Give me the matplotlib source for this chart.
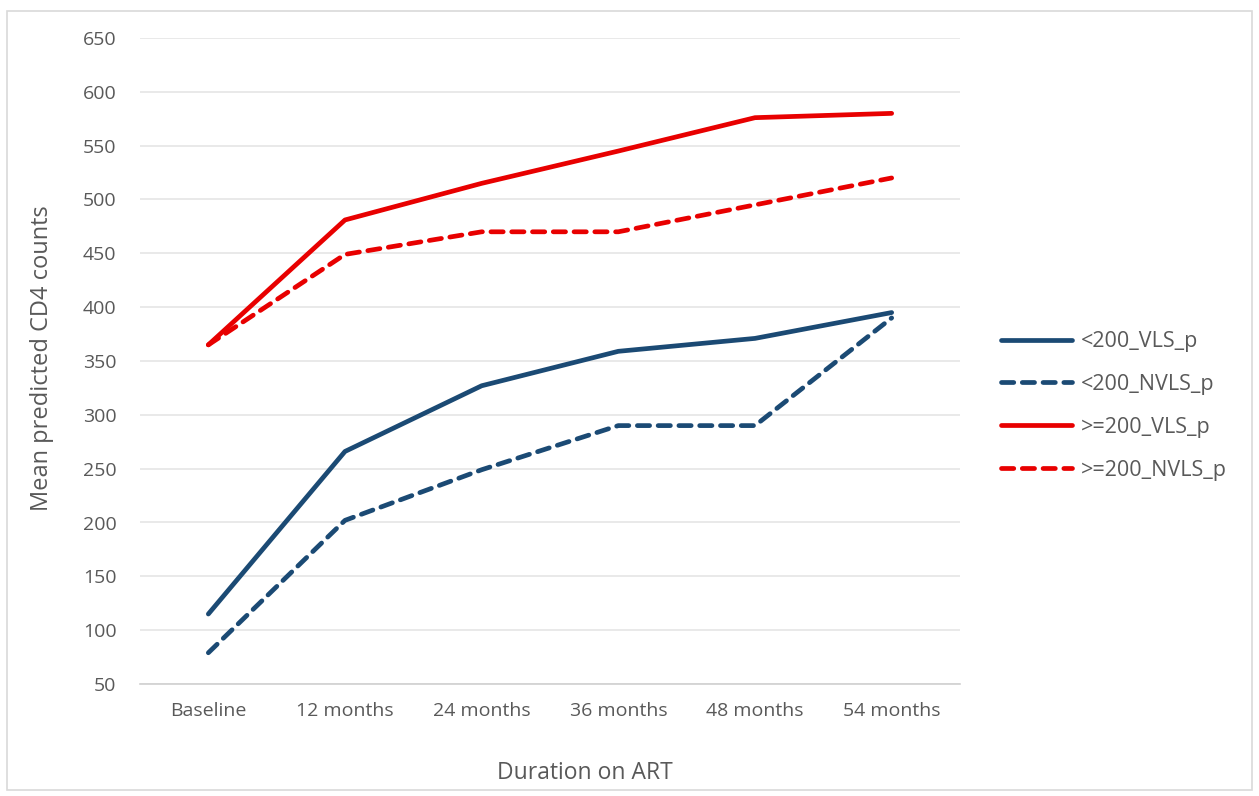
import matplotlib
matplotlib.use("Agg")
import matplotlib.pyplot as plt
from matplotlib.patches import Rectangle

categories = ["Baseline", "12 months", "24 months", "36 months", "48 months", "54 months"]
lt200_vls = [115, 266, 327, 359, 371, 395]
lt200_nvls = [79, 202, 249, 290, 290, 390]
ge200_vls = [365, 481, 515, 545, 576, 580]
ge200_nvls = [365, 449, 470, 470, 495, 520]
series_labels = ["<200_VLS_p", "<200_NVLS_p", ">=200_VLS_p", ">=200_NVLS_p"]
yticks = list(range(50, 651, 50))

plt.rcParams['font.family'] = ['Open Sans', 'DejaVu Sans']
text_color = '#595959'
navy = '#1B4A74'
red = '#E80000'

fig = plt.figure(figsize=(12.59, 7.96), dpi=100)
ax = fig.add_axes([140/1259, 1-684/796, 820/1259, 646/796])

x = list(range(len(categories)))
lw = 3.4
ax.plot(x, lt200_vls, color=navy, lw=lw, solid_capstyle='round', solid_joinstyle='round', label=series_labels[0])
ax.plot(x, lt200_nvls, color=navy, lw=lw, dashes=(2.6, 1.8), dash_capstyle='round', label=series_labels[1])
ax.plot(x, ge200_vls, color=red, lw=lw, solid_capstyle='round', solid_joinstyle='round', label=series_labels[2])
ax.plot(x, ge200_nvls, color=red, lw=lw, dashes=(2.6, 1.8), dash_capstyle='round', label=series_labels[3])

ax.set_xlim(-0.5, len(categories) - 0.5)
ax.set_ylim(50, 650)
ax.set_yticks(yticks)
ax.set_xticks(x)
ax.set_xticklabels(categories)
ax.yaxis.grid(True, color='#E3E3E3', lw=1.1)
ax.set_axisbelow(True)
for s in ['top', 'right', 'left']:
    ax.spines[s].set_visible(False)
ax.spines['bottom'].set_color('#D0D0D0')
ax.spines['bottom'].set_linewidth(1.2)
ax.tick_params(axis='both', length=0, labelsize=14, colors=text_color)
ax.tick_params(axis='y', pad=17)
ax.tick_params(axis='x', pad=13)

fig.text(585/1259, 1-773/796, "Duration on ART", ha='center', va='center', fontsize=16.5, color=text_color)
fig.text(42/1259, 1-358/796, "Mean predicted CD4 counts", ha='center', va='center', rotation=90, fontsize=17, color=text_color)

leg = fig.legend(loc='center left', bbox_to_anchor=(982/1259, 1-406/796), frameon=False,
                 fontsize=15.5, labelspacing=1.02, handlelength=3.3, handletextpad=0.4)
for t in leg.get_texts():
    t.set_color(text_color)

fig.patches.append(Rectangle((7/1259, 6/796), 1245/1259, 779/796, transform=fig.transFigure,
                             fill=False, edgecolor='#D9D9D9', lw=1.2))

fig.savefig("out.png", dpi=100, facecolor='white')
